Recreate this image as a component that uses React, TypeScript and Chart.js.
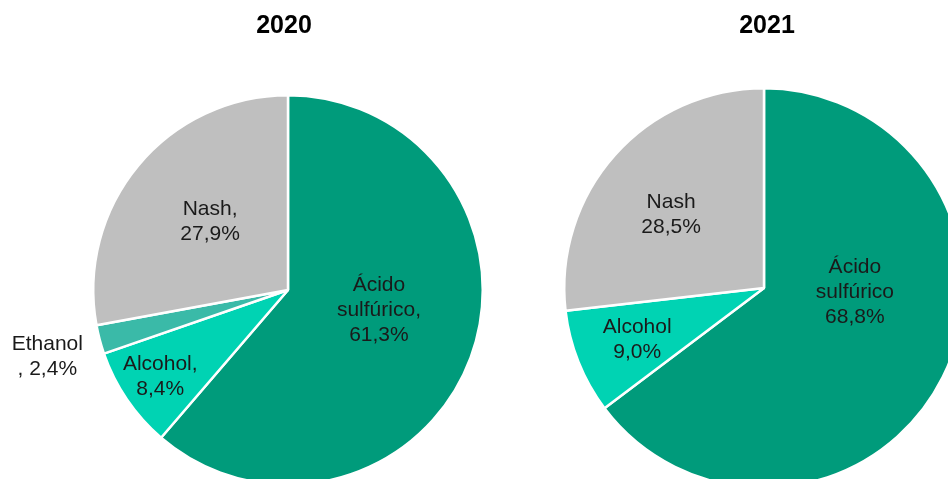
import React, { useEffect, useRef } from 'react';
import { Chart, registerables } from 'chart.js';

Chart.register(...registerables);

// ---- data ----
const title2020 = '2020';
const categories2020 = ['Ácido sulfúrico', 'Alcohol', 'Ethanol', 'Nash'];
const values2020 = [61.3, 8.4, 2.4, 27.9];
const labelLines2020 = [['Ácido', 'sulfúrico,', '61,3%'], ['Alcohol,', '8,4%'], ['Ethanol', ', 2,4%'], ['Nash,', '27,9%']];

const title2021 = '2021';
const categories2021 = ['Ácido sulfúrico', 'Alcohol', 'Nash'];
const values2021 = [68.8, 9.0, 28.5];
const labelLines2021 = [['Ácido', 'sulfúrico', '68,8%'], ['Alcohol', '9,0%'], ['Nash', '28,5%']];

// ---- styles / layout ----
const colors2020 = ['#009B7B', '#00D3B3', '#3ABAA8', '#BFBFBF'];
const colors2021 = ['#009B7B', '#00D3B3', '#BFBFBF'];
// label block centre as fraction of radius, relative to pie centre
const labelPos2020 = [[0.467, 0.103], [-0.656, 0.446], [-1.236, 0.344], [-0.4, -0.349]];
const labelPos2021 = [[0.455, 0.02], [-0.635, 0.26], [-0.465, -0.365]];

const FONT = '"Liberation Sans", Arial, sans-serif';

type PieProps = {
  left: number;
  width: number;
  height: number;
  padding: { left: number; top: number; right: number; bottom: number };
  title: string;
  titleDx: number;
  categories: string[];
  values: number[];
  colors: string[];
  labelLines: string[][];
  labelPos: number[][];
};

function PieChart(p: PieProps) {
  const ref = useRef<HTMLCanvasElement | null>(null);
  useEffect(() => {
    const canvas = ref.current!;
    const textPlugin = {
      id: 'pieText',
      afterDraw(chart: any) {
        const ctx = chart.ctx;
        const arcs = chart.getDatasetMeta(0).data;
        if (!arcs.length) return;
        const cx = arcs[0].x;
        const cy = arcs[0].y;
        const r = arcs[0].outerRadius;
        ctx.save();
        ctx.textAlign = 'center';
        ctx.textBaseline = 'middle';
        ctx.fillStyle = '#000';
        ctx.font = `bold 25px ${FONT}`;
        ctx.fillText(p.title, cx + p.titleDx, 26);
        ctx.font = `21px ${FONT}`;
        ctx.fillStyle = '#1a1a1a';
        p.labelLines.forEach((lines, i) => {
          const [fx, fy] = p.labelPos[i];
          const bx = cx + fx * r;
          const by = cy + fy * r;
          const lh = 25;
          const y0 = by - ((lines.length - 1) * lh) / 2;
          lines.forEach((t, j) => ctx.fillText(t, bx, y0 + j * lh));
        });
        ctx.restore();
      },
    };
    const chart = new Chart(canvas, {
      type: 'pie',
      data: {
        labels: p.categories,
        datasets: [
          {
            data: p.values,
            backgroundColor: p.colors,
            borderColor: '#ffffff',
            borderWidth: 2.5,
          },
        ],
      },
      options: {
        responsive: false,
        animation: false,
        devicePixelRatio: 1,
        layout: { padding: p.padding },
        plugins: { legend: { display: false }, tooltip: { enabled: false }, title: { display: false } },
      },
      plugins: [textPlugin],
    });
    return () => chart.destroy();
  }, []);
  return (
    <canvas
      ref={ref}
      width={p.width}
      height={p.height}
      style={{ position: 'absolute', left: p.left, top: 0, width: p.width, height: p.height }}
    />
  );
}

export default function App() {
  return (
    <div
      style={{
        position: 'absolute',
        left: 0,
        top: 0,
        width: 948,
        height: 479,
        overflow: 'hidden',
        background: '#ffffff',
      }}
    >
      <PieChart
        left={0}
        width={490}
        height={490}
        padding={{ left: 92, top: 94, right: 6, bottom: 4 }}
        title={title2020}
        titleDx={-4}
        categories={categories2020}
        values={values2020}
        colors={colors2020}
        labelLines={labelLines2020}
        labelPos={labelPos2020}
      />
      <PieChart
        left={474}
        width={491}
        height={491}
        padding={{ left: 89, top: 87, right: 0, bottom: 2 }}
        title={title2021}
        titleDx={3}
        categories={categories2021}
        values={values2021}
        colors={colors2021}
        labelLines={labelLines2021}
        labelPos={labelPos2021}
      />
    </div>
  );
}
